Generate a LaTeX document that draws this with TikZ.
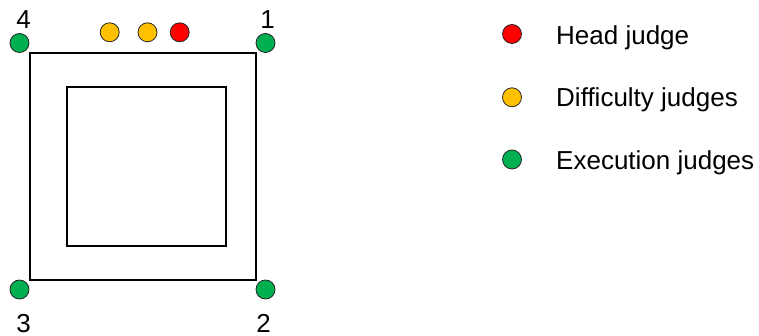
\documentclass[tikz,border=0pt]{standalone}
\usepackage{fontspec}
\setmainfont{Liberation Sans}
\definecolor{jgreen}{HTML}{00B050}
\definecolor{jyellow}{HTML}{FFC000}
\definecolor{jred}{HTML}{FF0000}
\begin{document}
\begin{tikzpicture}[x=1pt,y=-1pt,
  judge/.style={circle,draw=black!85,line width=0.8pt,minimum size=19pt,inner sep=0pt},
  lbl/.style={font=\fontsize{26}{30}\selectfont,inner sep=0pt,anchor=base},
  legend/.style={font=\fontsize{26}{30}\selectfont,inner sep=0pt,anchor=base west},
  floor/.style={draw=black,line width=2pt}]
\useasboundingbox (0,0) rectangle (759,336);
% floor squares
\draw[floor] (29.5,52.7) rectangle (255.7,280);
\draw[floor] (67,87.3) rectangle (226,245.7);
% execution judges
\node[judge,fill=jgreen] (e4) at (19.5,43) {};
\node[judge,fill=jgreen] (e1) at (265.5,43) {};
\node[judge,fill=jgreen] (e3) at (19.5,289.5) {};
\node[judge,fill=jgreen] (e2) at (265.5,289.5) {};
% difficulty and head judges
\node[judge,fill=jyellow] (d1) at (109.7,32.3) {};
\node[judge,fill=jyellow] (d2) at (147.5,32.3) {};
\node[judge,fill=jred] (h) at (179.7,32.3) {};
% numbers
\node[lbl] (n4) at (23.7,29) {4};
\node[lbl] (n1) at (267.5,29) {1};
\node[lbl] (n3) at (23.7,332.5) {3};
\node[lbl] (n2) at (263.5,332.5) {2};
% legend
\node[judge,fill=jred] (lh) at (512,34) {};
\node[judge,fill=jyellow] (ld) at (512,97.3) {};
\node[judge,fill=jgreen] (le) at (512,159.5) {};
\node[legend] (th) at (556,44.7) {Head judge};
\node[legend] (td) at (556,106.7) {Difficulty judges};
\node[legend] (te) at (556,169.3) {Execution judges};
\end{tikzpicture}
\end{document}
